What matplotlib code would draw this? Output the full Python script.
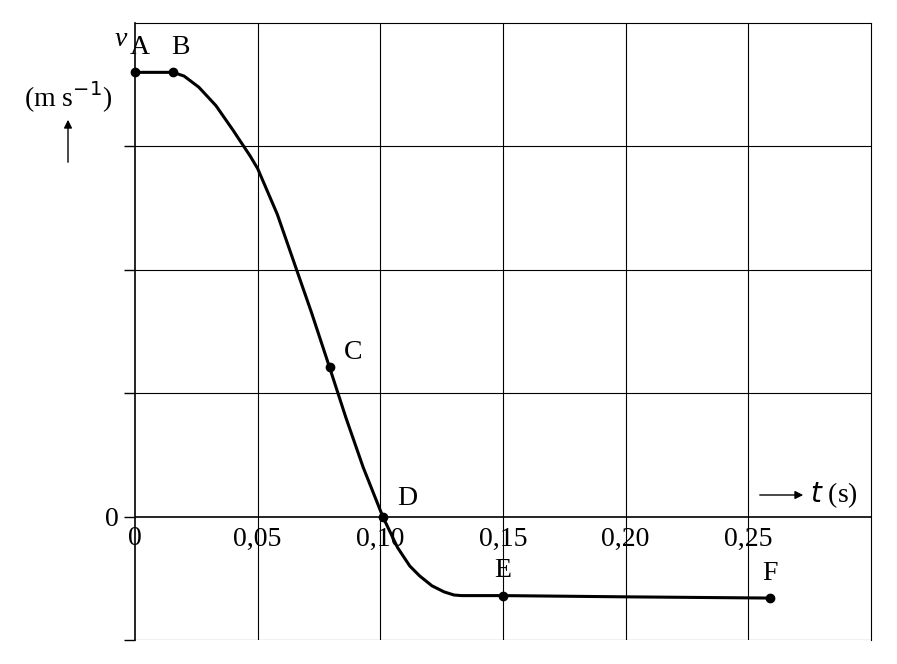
import matplotlib
matplotlib.use("Agg")
import matplotlib.pyplot as plt

# curve (t in s, v in grid units)
curve_t = [0.0, 0.0155, 0.020, 0.026, 0.033, 0.040, 0.047, 0.050, 0.058, 0.065, 0.072, 0.0793, 0.086, 0.093, 0.101, 0.107, 0.112, 0.116, 0.121, 0.126, 0.130, 0.133, 0.150, 0.200, 0.259]
curve_v = [3.6, 3.6, 3.57, 3.48, 3.33, 3.13, 2.92, 2.82, 2.45, 2.05, 1.65, 1.21, 0.80, 0.40, 0.0, -0.25, -0.40, -0.48, -0.56, -0.61, -0.635, -0.64, -0.64, -0.65, -0.66]
pt_labels = ["A", "B", "C", "D", "E", "F"]
pt_t = [0.0, 0.0155, 0.0793, 0.101, 0.150, 0.259]
pt_v = [3.6, 3.6, 1.21, 0.0, -0.64, -0.66]
xticks = [0, 0.05, 0.10, 0.15, 0.20, 0.25]
xticklabels = ["0", "0,05", "0,10", "0,15", "0,20", "0,25"]

plt.rcParams['font.family'] = ['Liberation Serif', 'DejaVu Serif']
fig = plt.figure(figsize=(8.97, 6.64), dpi=100)
ax = fig.add_axes([0.1505, 0.0361, 0.971 - 0.1505, 0.9654 - 0.0361])
ax.set_xlim(0, 0.30)
ax.set_ylim(-1, 4)
for x in [0.05, 0.10, 0.15, 0.20, 0.25]:
    ax.axvline(x, color='black', lw=0.8)
for y in [-1, 1, 2, 3]:
    ax.axhline(y, color='black', lw=0.8)
ax.axhline(0, color='black', lw=1.2)
ax.spines['bottom'].set_visible(False)
for s in ['top', 'right']:
    ax.spines[s].set_linewidth(0.8)
ax.spines['left'].set_linewidth(1.2)
ax.set_yticks([-1, 0, 1, 2, 3])
ax.set_yticklabels(["", "0", "", "", ""], fontsize=20)
ax.tick_params(axis='y', direction='out', length=8, width=1)
ax.set_xticks([])
for x, l in zip(xticks, xticklabels):
    ax.text(x, -0.08, l, ha='center', va='top', fontsize=20)

ax.plot(curve_t, curve_v, color='black', lw=2.2)
ax.plot(pt_t, pt_v, 'o', color='black', ms=6, clip_on=False)
offs = {"A": (0.002, 0.2), "B": (0.003, 0.2), "C": (0.006, 0.12), "D": (0.006, 0.15), "E": (0.0, 0.2), "F": (0.0, 0.2)}
for l, x, y in zip(pt_labels, pt_t, pt_v):
    dx, dy = offs[l]
    ax.text(x + dx, y + dy, l, ha='center' if l in "ABEF" else 'left', va='center', fontsize=20)

fig.text(121/897, 1 - 40/664, "v", style='italic', fontsize=20, ha='center', va='center')
fig.text(68/897, 1 - 97/664, "(m s$^{-1}$)", fontsize=20, ha='center', va='center')
fig.add_artist(matplotlib.patches.FancyArrowPatch((68/897, 1 - 165/664), (68/897, 1 - 117/664),
               transform=fig.transFigure, arrowstyle='-|>', mutation_scale=12, color='black', lw=1))
fig.add_artist(matplotlib.patches.FancyArrowPatch((757/897, 1 - 495/664), (806/897, 1 - 495/664),
               transform=fig.transFigure, arrowstyle='-|>', mutation_scale=12, color='black', lw=1))
fig.text(810/897, 1 - 495/664, "$t$ (s)", fontsize=20, ha='left', va='center')
fig.savefig("out.png", dpi=100)
